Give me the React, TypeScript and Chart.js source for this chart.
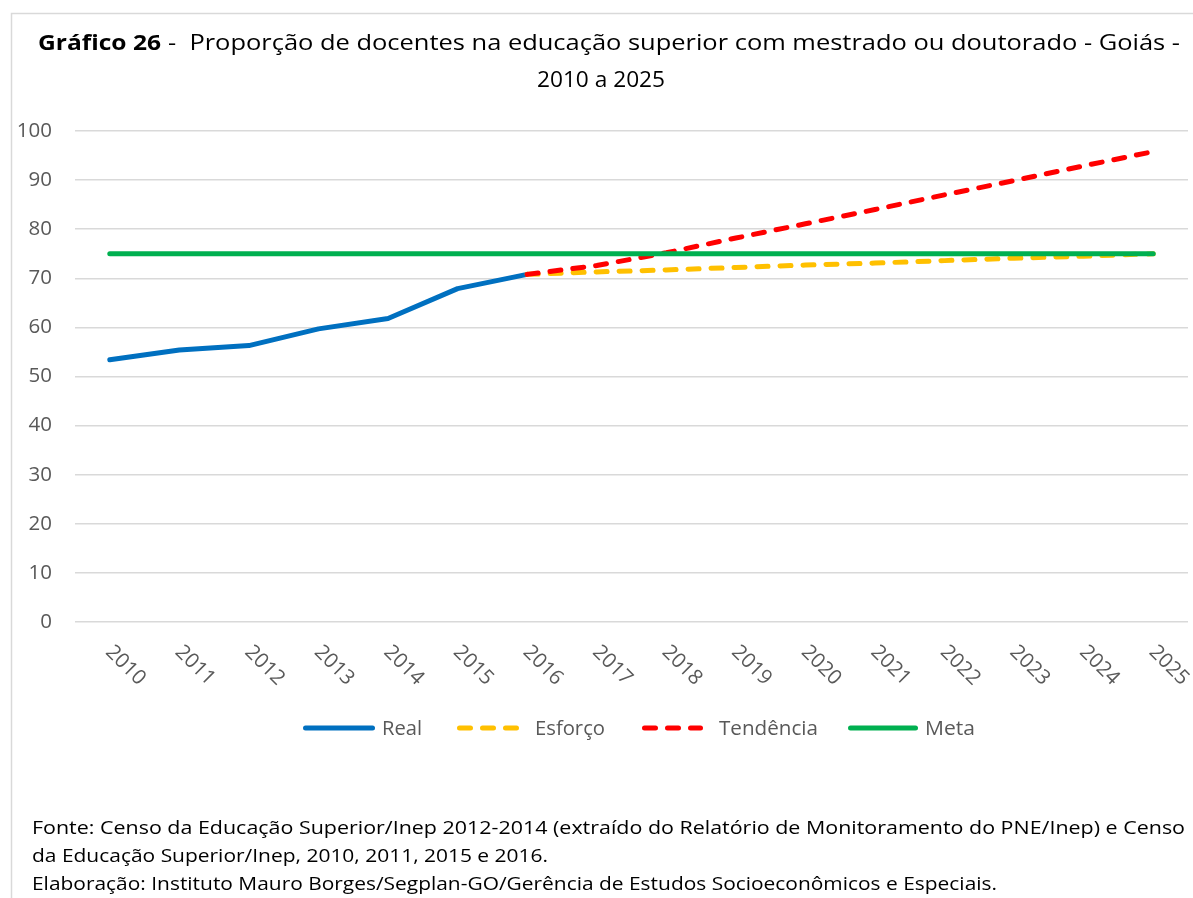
import React, { useEffect, useRef } from 'react';
import { Chart, registerables } from 'chart.js';

Chart.register(...registerables);

const FONT = '"Open Sans", "Noto Sans", sans-serif';

const years = ['2010', '2011', '2012', '2013', '2014', '2015', '2016', '2017', '2018', '2019', '2020', '2021', '2022', '2023', '2024', '2025'];
const realValues = [53.4, 55.4, 56.3, 59.7, 61.8, 67.9, 70.8, null, null, null, null, null, null, null, null, null];
const esforcoValues = [null, null, null, null, null, null, 70.8, 71.3, 71.7, 72.2, 72.7, 73.1, 73.6, 74.1, 74.5, 75.0];
const tendenciaValues = [null, null, null, null, null, null, 70.8, 72.6, 75.2, 78.2, 81.1, 84.0, 87.0, 89.9, 92.9, 95.8];
const metaValues = [75, 75, 75, 75, 75, 75, 75, 75, 75, 75, 75, 75, 75, 75, 75, 75];

const seriesNames = ['Real', 'Esforço', 'Tendência', 'Meta'];
const seriesColors = ['#0070C0', '#FFC000', '#FF0000', '#00B050'];
const seriesDashed = [false, true, true, false];

const yMin = 0;
const yMax = 100;
const yStep = 10;

const titleBold = 'Gráfico 26';
const titleRest = '-  Proporção de docentes na educação superior com mestrado ou doutorado - Goiás -';
const titleLine2 = '2010 a 2025';
const sourceLines = [
  'Fonte: Censo da Educação Superior/Inep 2012-2014 (extraído do Relatório de Monitoramento do PNE/Inep) e Censo',
  'da Educação Superior/Inep, 2010, 2011, 2015 e 2016.',
  'Elaboração: Instituto Mauro Borges/Segplan-GO/Gerência de Estudos Socioeconômicos e Especiais.',
];

function drawFitted(ctx: CanvasRenderingContext2D, text: string, x: number, y: number, width: number) {
  const w = ctx.measureText(text).width;
  const s = width / w;
  ctx.save();
  ctx.translate(x, y);
  ctx.scale(s, 1);
  ctx.textAlign = 'left';
  ctx.textBaseline = 'alphabetic';
  ctx.fillText(text, 0, 0);
  ctx.restore();
}

const decorPlugin = {
  id: 'decor',
  beforeDraw(chart: any) {
    const ctx = chart.ctx as CanvasRenderingContext2D;
    ctx.save();
    ctx.fillStyle = '#ffffff';
    ctx.fillRect(0, 0, chart.width, chart.height);
    ctx.strokeStyle = '#D9D9D9';
    ctx.lineWidth = 1.5;
    ctx.beginPath();
    ctx.moveTo(11.5, chart.height);
    ctx.lineTo(11.5, 13.5);
    ctx.lineTo(chart.width, 13.5);
    ctx.stroke();
    ctx.restore();
  },
  afterDraw(chart: any) {
    const ctx = chart.ctx as CanvasRenderingContext2D;
    ctx.save();

    // Title
    ctx.fillStyle = '#000000';
    ctx.font = `bold 22px ${FONT}`;
    drawFitted(ctx, titleBold, 38, 50, 123);
    ctx.font = `22px ${FONT}`;
    drawFitted(ctx, titleRest, 168, 50, 1012);
    drawFitted(ctx, titleLine2, 537, 87, 128);

    // X labels rotated
    const xs = chart.scales.x;
    ctx.fillStyle = '#595959';
    ctx.font = `20.5px ${FONT}`;
    years.forEach((label, i) => {
      const px = xs.getPixelForValue(i);
      ctx.save();
      ctx.translate(px - 5, 653);
      ctx.rotate(Math.PI / 4);
      ctx.textAlign = 'left';
      ctx.textBaseline = 'alphabetic';
      ctx.fillText(label, 0, 0);
      ctx.restore();
    });

    // Legend
    const sampleStart = [303, 457, 642, 848];
    const sampleEnd = [375, 519, 703, 918];
    const textWidths = [40, 70, 99, 50];
    const ly = 728;
    ctx.font = `20.5px ${FONT}`;
    seriesNames.forEach((name, i) => {
      ctx.save();
      ctx.strokeStyle = seriesColors[i];
      ctx.lineWidth = 5;
      ctx.lineCap = 'round';
      ctx.setLineDash(seriesDashed[i] ? [11, 12] : []);
      ctx.beginPath();
      ctx.moveTo(sampleStart[i] + 2.5, ly);
      ctx.lineTo(sampleEnd[i] - 2.5, ly);
      ctx.stroke();
      ctx.restore();
      ctx.fillStyle = '#595959';
      const tx = sampleEnd[i] + (seriesDashed[i] ? 16 : 7);
      drawFitted(ctx, name, tx, 735, textWidths[i]);
    });

    // Footer
    ctx.fillStyle = '#000000';
    ctx.font = `18px ${FONT}`;
    drawFitted(ctx, sourceLines[0], 32, 834, 1153);
    drawFitted(ctx, sourceLines[1], 32, 862, 516);
    drawFitted(ctx, sourceLines[2], 32, 890, 965);

    ctx.restore();
  },
};

export default function App() {
  const canvasRef = useRef<HTMLCanvasElement | null>(null);

  useEffect(() => {
    const canvas = canvasRef.current;
    if (!canvas) return;
    const values = [realValues, esforcoValues, tendenciaValues, metaValues];
    const orders = [3, 2, 1, 0];
    const chart = new Chart(canvas, {
      type: 'line',
      data: {
        labels: years,
        datasets: seriesNames.map((name, i) => ({
          label: name,
          data: values[i],
          borderColor: seriesColors[i],
          backgroundColor: seriesColors[i],
          borderWidth: 5,
          borderDash: seriesDashed[i] ? [11, 12] : [],
          borderCapStyle: 'round',
          borderJoinStyle: 'round',
          pointRadius: 0,
          pointHoverRadius: 0,
          tension: 0,
          fill: false,
          spanGaps: false,
          order: orders[i],
        })),
      },
      options: {
        responsive: false,
        animation: false,
        devicePixelRatio: 1,
        layout: { padding: { left: 11, top: 131, right: 5, bottom: 0 } },
        plugins: {
          legend: { display: false },
          title: { display: false },
          tooltip: { enabled: false },
        },
        scales: {
          x: {
            offset: true,
            grid: { display: false },
            border: { display: false },
            ticks: { display: false },
            afterFit: (s: any) => {
              s.height = 898 - 622;
            },
          },
          y: {
            min: yMin,
            max: yMax,
            ticks: {
              stepSize: yStep,
              color: '#595959',
              font: { family: FONT, size: 20.5 },
              padding: 23,
            },
            grid: { color: '#D9D9D9', lineWidth: 1.5, drawTicks: false },
            border: { display: false },
            afterFit: (s: any) => {
              s.width = 64;
            },
          },
        },
      } as any,
      plugins: [decorPlugin],
    });
    return () => chart.destroy();
  }, []);

  return (
    <div style={{ position: 'absolute', left: 0, top: 0, width: 1193, height: 898, background: '#fff' }}>
      <canvas ref={canvasRef} width={1193} height={898} style={{ display: 'block', width: 1193, height: 898 }} />
    </div>
  );
}
